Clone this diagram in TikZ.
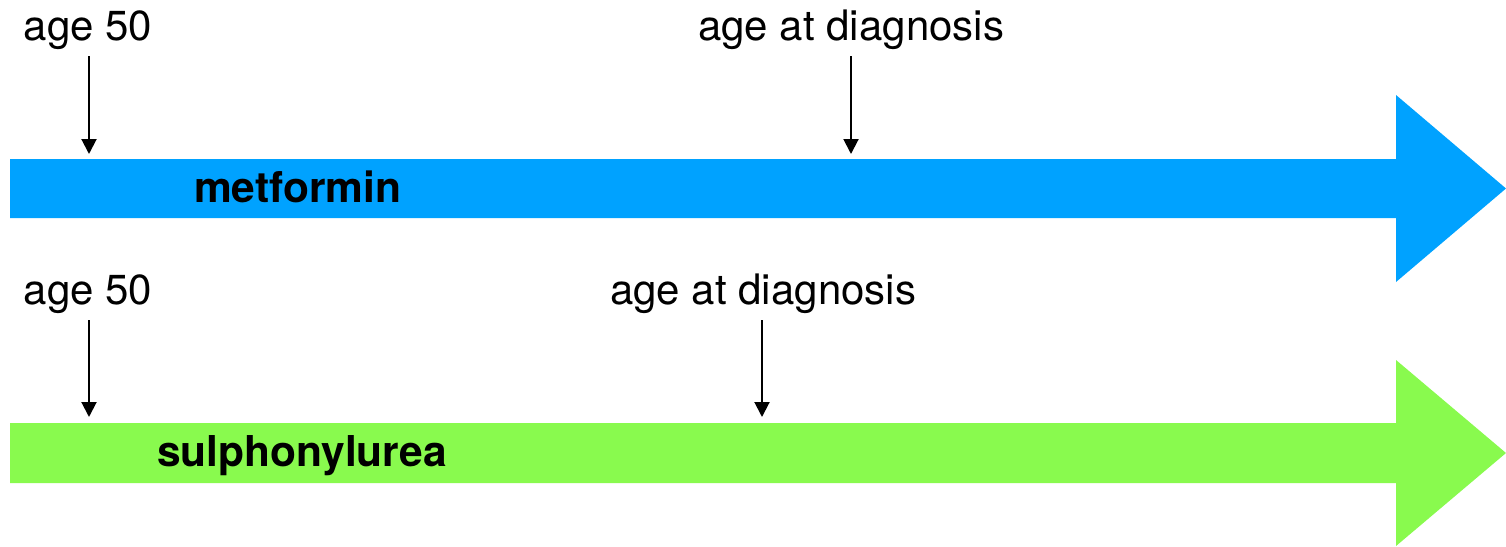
\documentclass[tikz,border=0pt]{standalone}
\usepackage{fontspec}
\setmainfont{TeX Gyre Heros}
\usetikzlibrary{arrows.meta}
\definecolor{barblue}{RGB}{0,162,255}
\definecolor{bargreen}{RGB}{137,250,78}
\tikzset{
  lab/.style={anchor=base west, inner sep=0pt, font=\fontsize{42}{50}\selectfont},
  barlab/.style={anchor=base west, inner sep=0pt, font=\fontsize{42.5}{50}\selectfont\bfseries},
  pointer/.style={line width=2pt, -{Triangle[width=15pt,length=15pt]}},
}
\begin{document}
\begin{tikzpicture}[x=1pt,y=-1pt]
\useasboundingbox (0,0) rectangle (1506,546);
% fat arrows
\fill[barblue] (10,159) -- (1396,159) -- (1396,95) -- (1506,188.5) -- (1396,282) -- (1396,218) -- (10,218) -- cycle;
\fill[bargreen] (10,423) -- (1396,423) -- (1396,360) -- (1506,453) -- (1396,546) -- (1396,483) -- (10,483) -- cycle;
% labels
\node[lab] (a50a) at (23.5,40) {age 50};
\node[lab] (diaga) at (698,40) {age at diagnosis};
\node[lab] (a50b) at (23.5,304) {age 50};
\node[lab] (diagb) at (610,304) {age at diagnosis};
\node[barlab] (met) at (194,202) {metformin};
\node[barlab] (sul) at (157,466) {sulphonylurea};
% pointer coordinates
\coordinate (pa1) at (89,56);  \coordinate (qa1) at (89,154);
\coordinate (pa2) at (851,56); \coordinate (qa2) at (851,154);
\coordinate (pb1) at (89,320); \coordinate (qb1) at (89,417);
\coordinate (pb2) at (762,320); \coordinate (qb2) at (762,417);
\draw[pointer] (pa1) -- (qa1);
\draw[pointer] (pa2) -- (qa2);
\draw[pointer] (pb1) -- (qb1);
\draw[pointer] (pb2) -- (qb2);
\end{tikzpicture}
\end{document}
